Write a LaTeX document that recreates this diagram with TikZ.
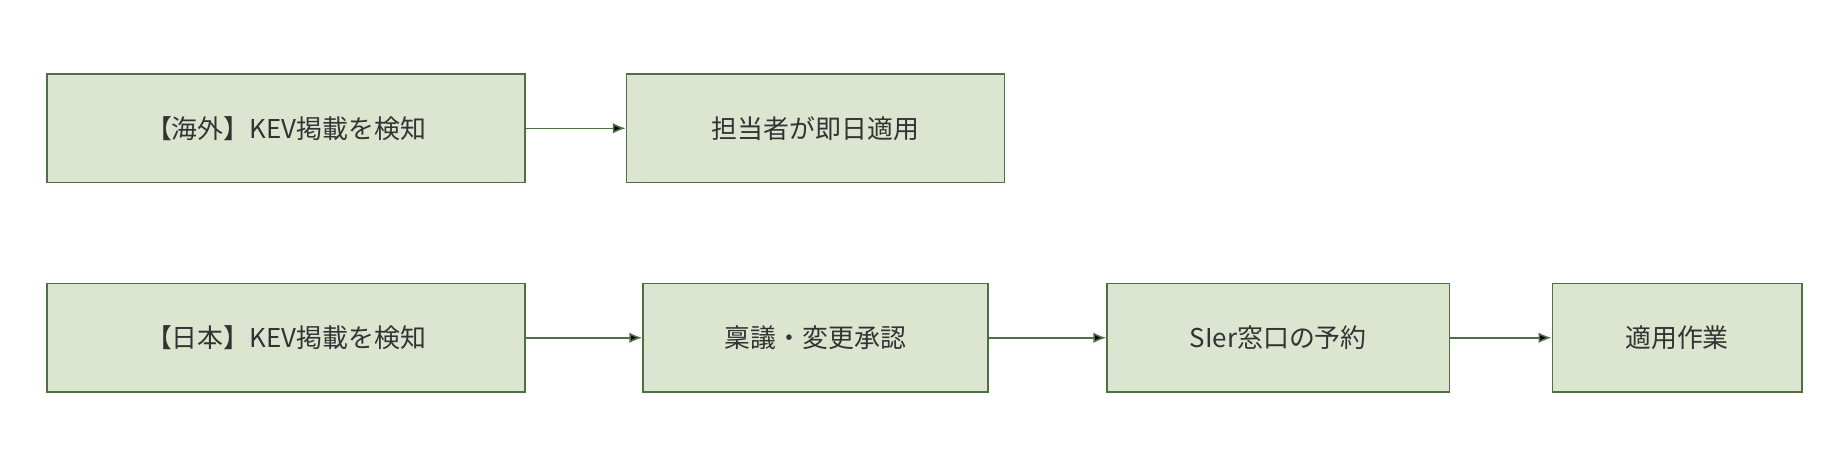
\documentclass[tikz,border=0pt]{standalone}
\usepackage{fontspec}
\setmainfont{Noto Sans CJK JP}
\usetikzlibrary{arrows.meta,positioning}
\definecolor{boxfill}{HTML}{DCE5D0}
\definecolor{boxline}{HTML}{4F6F45}
\definecolor{txt}{HTML}{333333}
\begin{document}
\begin{tikzpicture}[x=1pt,y=-1pt,->,>={Latex[length=11pt,width=9pt]},
  thick,step node/.style={rectangle,fill=boxfill,draw=boxline,line width=1.3pt,
    minimum height=92pt,inner sep=0pt,text=txt,font=\fontsize{22}{26}\selectfont},
  flow/.style={draw=boxline,line width=1.3pt}]
  \useasboundingbox (0,0) rectangle (1560,398);
  \node[step node,minimum width=406pt] (o1) at (243,109) {【海外】KEV掲載を検知};
  \node[step node,minimum width=321pt,right=85pt of o1] (o2) {担当者が即日適用};
  \node[step node,minimum width=406pt] (j1) at (243,287) {【日本】KEV掲載を検知};
  \node[step node,minimum width=293pt,right=99pt of j1] (j2) {稟議・変更承認};
  \node[step node,minimum width=291pt,right=100pt of j2] (j3) {SIer窓口の予約};
  \node[step node,minimum width=212pt,right=86pt of j3] (j4) {適用作業};

  \path[flow]
    (o1) edge (o2)
    (j1) edge (j2)
    (j2) edge (j3)
    (j3) edge (j4);
\end{tikzpicture}
\end{document}
